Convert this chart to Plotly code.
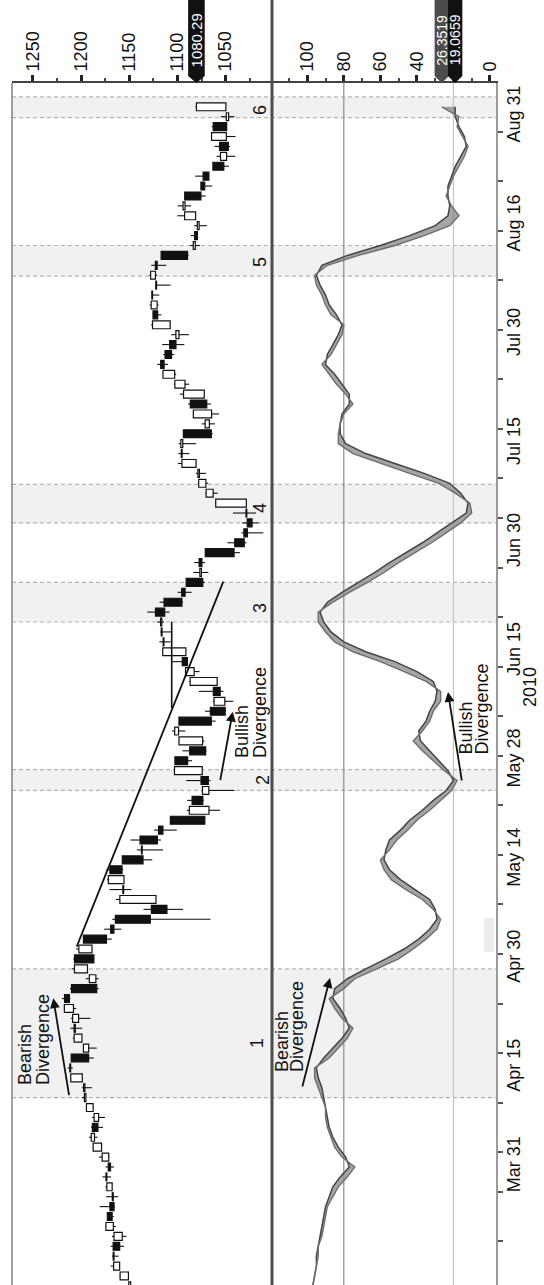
import pandas as pd
import plotly.graph_objects as go

# ---------------- data (S&P 500 daily, Mar 15 - Sep 1 2010) ----------------
holidays = ["2010-04-02", "2010-05-31", "2010-07-05"]
dates = [d for d in pd.bdate_range("2010-03-15", "2010-09-01")
         if d.strftime("%Y-%m-%d") not in holidays]

opens = [1148.53, 1150.83, 1159.94, 1166.13, 1166.68, 1157.25, 1166.47, 1172.70, 1170.03, 1167.58, 1167.71, 1173.75, 1171.75,
         1171.23, 1178.71, 1186.01, 1188.23, 1181.75, 1187.47, 1194.94, 1195.94, 1198.69, 1210.77, 1210.17, 1192.06, 1199.04,
         1207.16, 1202.52, 1207.87, 1217.07, 1209.92, 1184.59, 1193.30, 1206.77,
         1188.58, 1197.50, 1169.24, 1164.38, 1127.04, 1122.27, 1156.39, 1155.43, 1170.04, 1157.19, 1136.52, 1138.78, 1119.57,
         1107.34, 1067.26, 1084.78, 1067.42, 1075.51, 1074.27, 1102.59,
         1087.30, 1073.89, 1098.82, 1098.43, 1065.84, 1050.81, 1062.75, 1058.77, 1082.65, 1095.00, 1091.21, 1114.02, 1115.98,
         1116.16, 1122.79, 1113.90, 1095.57, 1090.93, 1075.10, 1077.50, 1071.10, 1040.56,
         1031.10, 1027.65, 1028.09, 1028.54, 1062.92, 1070.50, 1077.23, 1080.65, 1095.61, 1094.46, 1093.85, 1066.85, 1064.53,
         1086.67, 1072.14, 1092.17, 1102.89, 1117.36, 1112.84, 1108.07, 1098.44,
         1107.53, 1125.34, 1121.06, 1125.78, 1122.07, 1122.80, 1122.92, 1116.89, 1081.48, 1082.22, 1077.49, 1081.16, 1092.08,
         1092.44, 1075.63, 1073.36, 1063.20, 1048.98, 1056.28, 1049.27, 1062.90, 1046.88,
         1049.72]
highs = [1150.98, 1160.28, 1169.20, 1167.77, 1169.20, 1167.82, 1174.72, 1173.04, 1180.69, 1173.93, 1174.85, 1177.83, 1174.56,
         1181.43, 1187.73, 1191.80, 1189.60, 1188.55, 1194.66, 1199.20, 1199.04, 1210.65, 1213.92, 1210.17, 1197.87, 1208.58,
         1210.99, 1210.27, 1217.28, 1219.80, 1211.38, 1195.05, 1209.36, 1207.99,
         1205.13, 1197.50, 1175.95, 1167.58, 1135.13, 1163.85, 1170.48, 1172.87, 1173.57, 1157.19, 1141.88, 1148.66, 1124.27,
         1107.34, 1090.16, 1089.95, 1074.75, 1090.75, 1103.52, 1102.59,
         1094.77, 1098.42, 1105.67, 1098.43, 1071.36, 1063.15, 1077.74, 1087.85, 1092.25, 1105.91, 1115.59, 1118.74, 1117.72,
         1121.01, 1131.23, 1118.50, 1099.64, 1090.93, 1083.56, 1082.60, 1071.10, 1048.08,
         1033.58, 1032.95, 1042.50, 1060.89, 1071.25, 1078.16, 1080.78, 1099.46, 1099.08, 1098.66, 1093.85, 1074.70, 1083.94,
         1088.96, 1097.50, 1103.73, 1115.01, 1120.95, 1114.66, 1115.90, 1106.44,
         1127.30, 1125.44, 1128.75, 1126.56, 1123.06, 1129.24, 1127.16, 1116.89, 1086.72, 1086.25, 1082.62, 1100.14, 1099.77,
         1092.44, 1075.63, 1081.58, 1063.20, 1059.38, 1061.45, 1065.21, 1064.40, 1055.14,
         1081.30]
lows = [1141.45, 1150.35, 1159.94, 1161.16, 1155.33, 1152.88, 1163.83, 1166.01, 1165.09, 1161.48, 1167.71, 1168.92, 1165.77,
        1170.69, 1178.71, 1182.77, 1177.25, 1175.12, 1187.15, 1194.71, 1188.82, 1198.69, 1208.50, 1186.77, 1183.68, 1199.04,
        1198.85, 1190.19, 1205.10, 1211.07, 1181.62, 1181.81, 1193.30, 1186.32,
        1188.58, 1168.12, 1158.15, 1065.79, 1094.15, 1122.27, 1147.71, 1155.43, 1156.14, 1126.14, 1114.96, 1117.20, 1100.66,
        1071.58, 1055.90, 1072.70, 1040.78, 1065.59, 1074.27, 1084.78,
        1069.89, 1072.12, 1091.81, 1060.50, 1049.86, 1042.17, 1052.25, 1058.77, 1077.12, 1089.03, 1091.21, 1107.13, 1105.87,
        1113.93, 1108.24, 1094.18, 1085.31, 1071.60, 1067.89, 1071.45, 1035.18, 1028.33,
        1010.91, 1015.93, 1018.35, 1028.54, 1058.24, 1068.10, 1070.45, 1080.65, 1087.68, 1080.53, 1063.32, 1061.11, 1056.88,
        1065.25, 1072.14, 1087.88, 1101.30, 1109.78, 1103.11, 1092.82, 1088.01,
        1107.53, 1116.76, 1119.46, 1118.81, 1107.17, 1120.91, 1111.58, 1088.55, 1076.69, 1079.00, 1069.49, 1081.16, 1085.76,
        1070.66, 1063.91, 1067.08, 1046.68, 1039.83, 1045.40, 1039.70, 1048.79, 1040.88,
        1049.72]
closes = [1150.51, 1159.46, 1166.21, 1165.83, 1159.90, 1165.81, 1174.17, 1167.72, 1165.73, 1166.59, 1173.22, 1173.27, 1169.43,
          1178.10, 1187.44, 1189.44, 1182.45, 1186.44, 1194.37, 1196.48, 1197.30, 1210.65, 1211.67, 1192.13, 1197.52, 1207.17,
          1205.94, 1208.67, 1217.28, 1212.05, 1183.71, 1191.36, 1206.78, 1186.69,
          1202.26, 1173.60, 1165.87, 1128.15, 1110.88, 1159.73, 1155.79, 1171.67, 1157.44, 1135.68, 1136.94, 1120.80, 1115.05,
          1071.59, 1087.69, 1073.65, 1074.03, 1067.95, 1103.06, 1089.41,
          1070.71, 1098.38, 1102.83, 1064.88, 1050.47, 1062.00, 1055.69, 1086.84, 1091.60, 1089.63, 1115.23, 1114.61, 1116.04,
          1117.51, 1113.20, 1095.31, 1092.04, 1073.69, 1076.76, 1074.57, 1041.24, 1030.71,
          1027.37, 1022.58, 1028.06, 1060.27, 1070.25, 1077.96, 1078.75, 1095.34, 1095.17, 1096.48, 1064.88, 1071.25, 1083.48,
          1069.59, 1093.67, 1102.66, 1115.01, 1113.84, 1106.13, 1101.53, 1101.60,
          1125.86, 1120.46, 1127.24, 1125.81, 1121.64, 1127.79, 1121.06, 1089.47, 1083.61, 1079.25, 1079.38, 1092.54, 1094.16,
          1075.63, 1071.69, 1067.36, 1051.87, 1055.33, 1047.22, 1064.59, 1048.92, 1049.33,
          1080.29]

# slow stochastic lines (%K, %D)
stoch_k = [97, 96, 95, 94, 94, 92, 91, 90, 89, 86, 83, 78,
           74, 81, 85, 87, 89, 90, 90, 92, 94, 96, 96,
           88, 83, 78, 75, 81, 85, 88, 80, 74, 62,
           50, 42, 35, 29, 27, 31, 37, 46, 54, 58,
           60, 55, 51, 45, 40, 33, 27, 21, 18, 25,
           31, 37, 42, 37, 33, 31, 27, 27, 35, 47,
           60, 75, 85, 90, 94, 94, 86, 77, 67, 58,
           50, 41, 32, 24, 16, 10, 11, 19, 28, 44,
           60, 75, 83, 83, 82, 80, 75, 79, 84, 88,
           92, 87, 84, 81, 80, 87, 90, 92, 95, 96,
           89, 72, 52, 36, 22, 17, 21, 24, 22, 20,
           17, 14, 12, 15, 18, 17, 26.3519]
stoch_d = [97, 96, 95, 95, 94, 93, 92, 91, 90, 88, 86, 82,
           77, 79, 83, 86, 88, 89, 90, 91, 92, 94, 95,
           91, 86, 81, 77, 79, 82, 86, 85, 78, 68,
           57, 47, 39, 33, 29, 30, 33, 41, 49, 55,
           58, 57, 55, 49, 44, 37, 31, 24, 20, 23,
           28, 33, 38, 39, 35, 33, 30, 29, 31, 40,
           52, 68, 80, 87, 91, 93, 89, 81, 72, 63,
           55, 46, 37, 29, 21, 13, 12, 16, 22, 36,
           52, 68, 79, 82, 82, 81, 77, 77, 81, 85,
           90, 89, 86, 83, 81, 84, 88, 90, 93, 95,
           92, 78, 60, 44, 30, 23, 22, 23, 23, 21,
           19, 16, 13, 14, 17, 19, 19.0659]

price_ticks = [1050, 1100, 1150, 1200, 1250]
price_minor = [1025, 1075, 1125, 1175, 1225]
stoch_ticks = [0, 40, 60, 80, 100]
stoch_minor = [10, 20, 30, 50, 70, 90, 110]
date_label_days = ["2010-03-31", "2010-04-15", "2010-04-30", "2010-05-14", "2010-05-28", "2010-06-15",
                   "2010-06-30", "2010-07-15", "2010-07-30", "2010-08-16", "2010-08-31"]
date_label_text = ["Mar 31", "Apr 15", "Apr 30", "May 14", "May 28", "Jun 15",
                   "Jun 30", "Jul 15", "Jul 30", "Aug 16", "Aug 31"]

# ---------------- geometry helpers ----------------
W, H = 544, 1285
L, R, T, B = 12, 496, 83, 1285
SPLIT_PX = 272
SPLIT = (SPLIT_PX - L) / (R - L)
PR = [1271.6, 1001.9]
SR = [119.3, -3.3]
YR = [0.09, 121.4]

def xp(px):
    return (px - L) / (R - L)

def yp(py):
    return (B - py) / (B - T)

def px2price(px):
    return PR[0] + (px - L) / (SPLIT_PX - L) * (PR[1] - PR[0])

def py2pos(py):
    return YR[1] - (py - T) / (B - T) * (YR[1] - YR[0])

pos = list(range(len(dates)))
date_strs = [d.strftime("%Y-%m-%d") for d in dates]
label_pos = [date_strs.index(s) for s in date_label_days]
week_pos = [i - 0.5 for i in pos if i == 0 or dates[i].isocalendar()[1] != dates[i - 1].isocalendar()[1]]

FONT = "Liberation Sans, Arial, Helvetica, sans-serif"

# ---------------- traces ----------------
fig = go.Figure()

# wicks (split so hollow bodies stay clean)
wx, wy = [], []
for p, o, h, l, c in zip(pos, opens, highs, lows, closes):
    lo_b, hi_b = min(o, c), max(o, c)
    wx += [l, lo_b, None, hi_b, h, None]
    wy += [p, p, None, p, p, None]
fig.add_trace(go.Scatter(x=wx, y=wy, mode="lines", line=dict(color="#111", width=1.1),
                         xaxis="x", yaxis="y", hoverinfo="skip", showlegend=False))

body_base = [min(o, c) for o, c in zip(opens, closes)]
body_len = [max(abs(c - o), 0.8) for o, c in zip(opens, closes)]
body_col = ["white" if c >= o else "#111" for o, c in zip(opens, closes)]
fig.add_trace(go.Bar(x=body_len, y=pos, base=body_base, orientation="h", width=0.8,
                     marker=dict(color=body_col, line=dict(color="#111", width=1.2)),
                     xaxis="x", yaxis="y", showlegend=False, hoverinfo="skip"))

fig.add_trace(go.Scatter(x=stoch_d, y=pos, mode="lines", line=dict(color="#444", width=1.5),
                         xaxis="x2", yaxis="y", showlegend=False, hoverinfo="skip"))
fig.add_trace(go.Scatter(x=stoch_k, y=pos, mode="lines", line=dict(color="#6e6e6e", width=1.4),
                         fill="tonextx", fillcolor="rgba(135,135,135,0.75)",
                         xaxis="x2", yaxis="y", showlegend=False, hoverinfo="skip"))

# ---------------- shapes ----------------
shapes = []
bands = [(19, 32), (50, 52.1), (67, 71), (77, 80.9), (101.9, 105), (117.9, 120)]
for a, b in bands:
    shapes.append(dict(type="rect", xref="paper", yref="y", x0=0, x1=1, y0=a, y1=b,
                       fillcolor="#f1f1f1", line=dict(width=0), layer="below"))
    for v in (a, b):
        shapes.append(dict(type="line", xref="paper", yref="y", x0=0, x1=1, y0=v, y1=v,
                           line=dict(color="#b4b4b4", width=1.2, dash="4px,3px"), layer="below"))
# stochastic reference lines
shapes.append(dict(type="line", xref="x2", yref="paper", x0=80, x1=80, y0=0, y1=1,
                   line=dict(color="#8c8c8c", width=1.2), layer="below"))
shapes.append(dict(type="line", xref="x2", yref="paper", x0=20, x1=20, y0=0, y1=1,
                   line=dict(color="#c4c4c4", width=1.2), layer="below"))
# small grey patch near date axis
shapes.append(dict(type="rect", xref="paper", yref="paper", x0=xp(484), x1=xp(494), y0=yp(952), y1=yp(918),
                   fillcolor="#ececec", line=dict(width=0), layer="below"))
# trend line and resistance line in the price panel
shapes.append(dict(type="line", xref="x", yref="y", x0=px2price(76.7), y0=py2pos(946.7),
                   x1=px2price(223.3), y1=py2pos(581.7), line=dict(color="#111", width=1.8)))
shapes.append(dict(type="line", xref="x", yref="y", x0=px2price(171.7), x1=px2price(171.7),
                   y0=py2pos(708), y1=py2pos(621.7), line=dict(color="#111", width=1.6)))
# panel borders
shapes.append(dict(type="line", xref="paper", yref="paper", x0=0, x1=0, y0=0, y1=1,
                   line=dict(color="#8a8a8a", width=1.6)))
shapes.append(dict(type="line", xref="paper", yref="paper", x0=SPLIT, x1=SPLIT, y0=0, y1=yp(0),
                   line=dict(color="#4d4d4d", width=3)))

# value flags on the scales
def flag(xref, xv, half, fill):
    top, body_bot, tip = yp(0), yp(76), yp(83)
    path = (f"M {xv - half},{top} L {xv + half},{top} L {xv + half},{body_bot} "
            f"L {xv},{tip} L {xv - half},{body_bot} Z")
    return dict(type="path", xref=xref, yref="paper", path=path, fillcolor=fill, line=dict(width=0))

last_close = closes[-1]
shapes.append(flag("x", last_close, 8.3 * (PR[0] - PR[1]) / (SPLIT_PX - L), "#111"))
shapes.append(flag("x2", stoch_k[-1], 7.2 * (SR[0] - SR[1]) / (R - SPLIT_PX), "#4d4d4d"))
shapes.append(flag("x2", stoch_d[-1], 7.2 * (SR[0] - SR[1]) / (R - SPLIT_PX), "#111"))

# ---------------- annotations ----------------
ann = []

def rtext(text, px, py, size=18, yanchor="bottom", color="#111", xref="paper", xv=None):
    ann.append(dict(text=text, x=xp(px) if xv is None else xv, y=yp(py), xref=xref, yref="paper",
                    textangle=-90, showarrow=False, xanchor="center", yanchor=yanchor,
                    font=dict(size=size, color=color, family=FONT)))

rtext(f"{last_close:.2f}", 0, 40, size=15, yanchor="middle", color="white", xref="x", xv=last_close)
rtext(f"{stoch_k[-1]:.4f}", 0, 40, size=14, yanchor="middle", color="white", xref="x2", xv=stoch_k[-1])
rtext(f"{stoch_d[-1]:.4f}", 0, 40, size=14, yanchor="middle", color="white", xref="x2", xv=stoch_d[-1])

# divergence captions
rtext("Bearish", 24.5, 1087)
rtext("Divergence", 42.5, 1087)
rtext("Bullish", 242.5, 760)
rtext("Divergence", 260.5, 760)
rtext("Bearish", 281.5, 1074)
rtext("Divergence", 296.5, 1074)
rtext("Bullish", 466, 757)
rtext("Divergence", 482, 757)
# swing numbers
for t, px, py in [("1", 257, 1043), ("2", 263, 780), ("3", 260, 608),
                  ("4", 260, 508), ("5", 260, 262), ("6", 260, 110)]:
    rtext(t, px, py, yanchor="middle")
rtext("2010", 530, 687, yanchor="middle")

# divergence arrows (head, tail in pixels)
for hx, hy, tx, ty in [(53.3, 998.3, 69.3, 1096.7), (232.7, 711.7, 220, 781.7),
                       (330, 978, 302, 1088), (448, 692, 462, 782)]:
    ann.append(dict(text="", x=xp(hx), y=yp(hy), xref="paper", yref="paper", showarrow=True,
                    ax=tx - hx, ay=ty - hy, arrowhead=2, arrowsize=1.1, arrowwidth=1.8,
                    arrowcolor="#111", standoff=0))

# ---------------- layout ----------------
fig.update_layout(
    width=W, height=H,
    margin=dict(l=L, r=W - R, t=T, b=H - B, pad=0),
    paper_bgcolor="white", plot_bgcolor="white",
    barmode="overlay", showlegend=False,
    font=dict(family=FONT, color="#111"),
    xaxis=dict(domain=[0, SPLIT], range=PR, side="top", anchor="y", showgrid=False, zeroline=False,
               showline=True, linecolor="#444", linewidth=2,
               tickmode="array", tickvals=price_ticks, ticktext=[str(v) for v in price_ticks],
               tickangle=-90, ticks="outside", ticklen=6, tickwidth=2.5, tickcolor="#222",
               tickfont=dict(size=18, color="#111"),
               minor=dict(tickmode="array", tickvals=price_minor, ticks="outside", ticklen=3,
                          tickwidth=1.5, tickcolor="#444")),
    xaxis2=dict(domain=[SPLIT, 1], range=SR, side="top", anchor="y", showgrid=False, zeroline=False,
                showline=True, linecolor="#444", linewidth=2,
                tickmode="array", tickvals=stoch_ticks, ticktext=[str(v) for v in stoch_ticks],
                tickangle=-90, ticks="outside", ticklen=6, tickwidth=2.5, tickcolor="#222",
                tickfont=dict(size=18, color="#111"),
                minor=dict(tickmode="array", tickvals=stoch_minor, ticks="outside", ticklen=3,
                           tickwidth=1.5, tickcolor="#444")),
    yaxis=dict(range=YR, side="right", anchor="x2", showgrid=False, zeroline=False,
               showline=True, linecolor="#9a9a9a", linewidth=2,
               tickmode="array", tickvals=label_pos, ticktext=date_label_text, tickangle=-90,
               ticks="", tickfont=dict(size=18, color="#111"),
               minor=dict(tickmode="array", tickvals=week_pos, ticks="outside", ticklen=5,
                          tickwidth=1.5, tickcolor="#555")),
    shapes=shapes,
    annotations=ann,
)

fig.write_html("out.html", config={"displayModeBar": False},
               post_script="document.body.style.margin='0';document.body.style.overflow='hidden';")
